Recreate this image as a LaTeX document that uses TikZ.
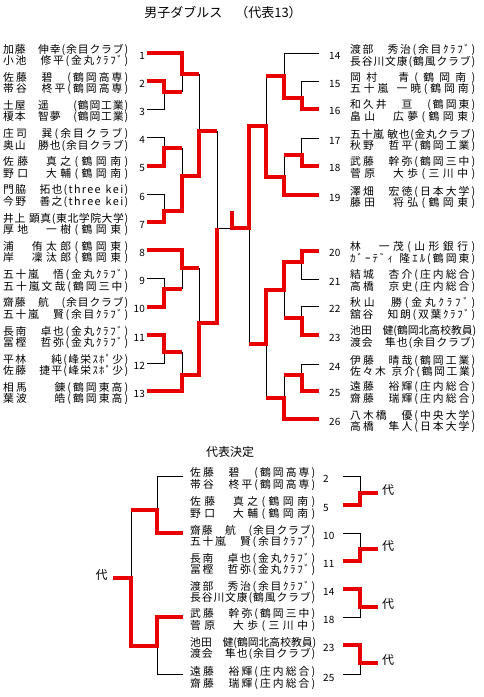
\documentclass[tikz,border=0pt]{standalone}
\usepackage{fontspec}
\setmainfont{Noto Sans CJK JP}
\usetikzlibrary{positioning}
\definecolor{winred}{RGB}{232,0,0}
\tikzset{
  win/.style={draw=winred,line width=4pt},
  lose/.style={draw=black,line width=0.8pt},
  player/.style={anchor=west,inner sep=0pt,font=\fontsize{10.8}{12}\selectfont},
  seedl/.style={anchor=east,inner sep=0pt,font=\fontsize{10}{12}\selectfont},
  seedr/.style={anchor=west,inner sep=0pt,font=\fontsize{10}{12}\selectfont},
  heading/.style={inner sep=0pt,font=\fontsize{13}{15}\selectfont},
  rep/.style={inner sep=0pt,font=\fontsize{12}{14}\selectfont}
}
% spread the characters of a name line over the cell
\newcommand\zs{\hbox to 1em{}}
\def\distA#1{#1\distB}
\def\distB#1{\ifx#1\relax\else\hfill#1\expandafter\distB\fi}
\newcommand\duoi[1]{\makebox[125pt][s]{\distA#1\relax}}
\newcommand\duo[1]{\expandafter\duoi\expandafter{#1}}

\begin{document}
\begin{tikzpicture}[x=1pt,y=-1pt]
  \useasboundingbox (0,0) rectangle (484,697);
  \node[heading] (title) at (223,13) {男子ダブルス　（代表13）};

  % left half
  \foreach \s/\y/\a/\b in {
    1/53/加藤\zs 伸幸(余目クラブ)/小池\zs 修平(金丸ｸﾗﾌﾞ),
    2/81.2/佐藤\zs 碧\zs (鶴岡高専)/帯谷\zs 柊平(鶴岡高専),
    3/109.4/土屋\zs 遥\zs\zs (鶴岡工業)/榎本\zs 智夢\zs (鶴岡工業),
    4/137.6/庄司\zs 巽(余目クラブ)/奥山\zs 勝也(余目クラブ),
    5/165.8/佐藤\zs 真之(鶴岡南)/野口\zs 大輔(鶴岡南),
    6/194/門脇\zs 拓也(three~kei)/今野\zs 善之(three~kei),
    7/222.2/井上~顕真(東北学院大学)/厚地\zs 一樹(鶴岡東),
    8/250.4/浦\zs 侑太郎(鶴岡東)/岸\zs 凜汰郎(鶴岡東),
    9/278.6/五十嵐\zs 悟(金丸ｸﾗﾌﾞ)/五十嵐文哉(鶴岡三中),
    10/306.8/齋藤\zs 航\zs (余目クラブ)/五十嵐\zs 賢(余目ｸﾗﾌﾞ),
    11/335/長南\zs 卓也(金丸ｸﾗﾌﾞ)/冨樫\zs 哲弥(金丸ｸﾗﾌﾞ),
    12/363.2/平林\zs\zs 純(峰栄ｽﾎﾟ少)/佐藤\zs 捷平(峰栄ｽﾎﾟ少),
    13/391.4/相馬\zs\zs 錬(鶴岡東高)/葉波\zs\zs 皓(鶴岡東高)} {
    \node[seedl] (n\s) at (145,\y+2.5) {\s};
    \node[player] (p\s a) at (3,\y-3.5) {\duo\a};
    \node[player] (p\s b) at (3,\y+8) {\duo\b};
    \coordinate (e\s) at (147,\y);
  }

  % right half
  \foreach \s/\y/\a/\b in {
    14/53.7/渡部\zs 秀治(余目ｸﾗﾌﾞ)/長谷川文康(鶴風クラブ),
    15/81.3/岡村\zs 青(鶴岡南)/五十嵐~一暁(鶴岡南),
    16/108.7/和久井\zs 亘\zs (鶴岡東)/畠山\zs 広夢(鶴岡東),
    17/138.3/五十嵐~敏也(金丸クラブ)/秋野\zs 哲平(鶴岡工業),
    18/165.7/武藤\zs 幹弥(鶴岡三中)/菅原\zs 大歩(三川中),
    19/195/澤畑\zs 宏徳(日本大学)/藤田\zs 将弘(鶴岡東),
    20/250.7/林\zs 一茂(山形銀行)/ｶﾞｰﾃﾞｨ~隆ｴﾙ(鶴岡東),
    21/279/結城\zs 杏介(庄内総合)/高橋\zs 京史(庄内総合),
    22/306.7/秋山\zs 勝(金丸ｸﾗﾌﾞ)/舘谷\zs 知朗(双葉ｸﾗﾌﾞ),
    23/335/池田\zs 健(鶴岡北高校教員)/渡会\zs 隼也(余目クラブ),
    24/364.3/伊藤\zs 晴哉(鶴岡工業)/佐々木~京介(鶴岡工業),
    25/390.7/遠藤\zs 裕輝(庄内総合)/齋藤\zs 瑞輝(庄内総合),
    26/419/八木橋\zs 優(中央大学)/高橋\zs 隼人(日本大学)} {
    \node[seedr] (n\s) at (329,\y+2.5) {\s};
    \node[player] (p\s a) at (350,\y-3.5) {\duo\a};
    \node[player] (p\s b) at (350,\y+8) {\duo\b};
    \coordinate (e\s) at (319.3,\y);
  }

  % left bracket
  \draw[lose] (e3) -| (164,92);
  \draw[lose] (e4) -| (164,148.3);
  \draw[lose] (e6) -| (164,210.7);
  \draw[lose] (e9) -| (164,289);
  \draw[lose] (e12) -| (164,352.3);
  \draw[lose] (182,74.3) -- (182,92);
  \draw[lose] (182,148.3) -- (182,176);
  \draw[lose] (182,268.3) -- (182,289);
  \draw[lose] (182,352.3) -- (182,375);
  \draw[lose] (199,74.3) -- (199,131);
  \draw[lose] (199,268.3) -- (199,323.3);
  \draw[lose] (217,131) |- (231.7,228.3);
  \draw[lose] (249.3,228.3) -- (249.3,344);
  \draw[win] (e1) -| (182,74.3) -- (199,74.3);
  \draw[win] (e2) -| (164,92) -- (182,92);
  \draw[win] (e5) -| (164,148.3) -- (182,148.3);
  \draw[win] (e7) -| (164,210.7) -| (182,176) -| (199,131) -- (217,131);
  \draw[win] (e8) -| (182,268.3) -- (199,268.3);
  \draw[win] (e10) -| (164,289) -- (182,289);
  \draw[win] (e11) -| (164,352.3) -- (182,352.3);
  \draw[win] (e13) -| (182,375) -| (199,323.3) -| (217,228.3);

  % right bracket
  \draw[lose] (e14) -| (284.3,75.7);
  \draw[lose] (e15) -| (301.7,98);
  \draw[lose] (e17) -| (301.7,155);
  \draw[lose] (284.3,155) -- (284.3,176.7);
  \draw[lose] (266,75.7) -- (266,126);
  \draw[lose] (e21) -| (301.7,262.3);
  \draw[lose] (e22) -| (301.7,318.3);
  \draw[lose] (284.3,290) -- (284.3,318.3);
  \draw[lose] (e24) -| (301.7,375);
  \draw[lose] (284.3,375) -- (284.3,398.3);
  \draw[lose] (266,344) -- (266,398.3);
  \draw[win] (e16) -| (301.7,98) -| (284.3,75.7) -- (266,75.7);
  \draw[win] (e18) -| (301.7,155) -- (284.3,155);
  \draw[win] (e19) -| (284.3,176.7) -| (266,126) -| (249.3,228.3) -| (231.7,210.7);
  \draw[win] (e20) -| (301.7,262.3) -| (284.3,290) -| (266,344) -- (249.3,344);
  \draw[win] (e23) -| (301.7,318.3) -- (284.3,318.3);
  \draw[win] (e25) -| (301.7,375) -- (284.3,375);
  \draw[win] (e26) -| (284.3,398.3) -- (266,398.3);

  % play-off for the last places
  \node[rep] (playoff) at (230,452) {代表決定};
  \foreach \s/\y/\a/\b in {
    2/476/佐藤\zs 碧\zs (鶴岡高専)/帯谷\zs 柊平(鶴岡高専),
    5/505/佐藤\zs 真之(鶴岡南)/野口\zs 大輔(鶴岡南),
    10/533/齋藤\zs 航\zs (余目クラブ)/五十嵐\zs 賢(余目ｸﾗﾌﾞ),
    11/561/長南\zs 卓也(金丸ｸﾗﾌﾞ)/冨樫\zs 哲弥(金丸ｸﾗﾌﾞ),
    14/589.3/渡部\zs 秀治(余目ｸﾗﾌﾞ)/長谷川文康(鶴風クラブ),
    18/617/武藤\zs 幹弥(鶴岡三中)/菅原\zs 大歩(三川中),
    23/645.3/池田\zs 健(鶴岡北高校教員)/渡会\zs 隼也(余目クラブ),
    25/674.7/遠藤\zs 裕輝(庄内総合)/齋藤\zs 瑞輝(庄内総合)} {
    \node[seedr] (q\s) at (323,\y+3) {\s};
    \node[player] (r\s a) at (190,\y-2.5) {\duo\a};
    \node[player] (r\s b) at (190,\y+9) {\duo\b};
    \coordinate (bl\s) at (182.7,\y);
    \coordinate (br\s) at (343.3,\y);
  }
  \draw[lose] (bl2) -| (157.3,510);
  \draw[lose] (bl25) -| (157.3,646);
  \draw[lose] (131,510) -- (131,578.3);
  \draw[win] (bl10) -| (157.3,510) -- (131,510);
  \draw[win] (bl18) -| (157.3,646) -| (131,578.3) -- (113.3,578.3);
  \node[rep] (rep0) at (101.7,575) {代};

  \draw[lose] (br2) -| (360,493.3);
  \draw[win] (br5) -| (360,493.3) -- (377.7,493.3);
  \draw[lose] (br10) -| (360,549.3);
  \draw[win] (br11) -| (360,549.3) -- (377.7,549.3);
  \draw[lose] (br18) -| (360,606.7);
  \draw[win] (br14) -| (360,606.7) -- (377.7,606.7);
  \draw[lose] (br25) -| (360,662.7);
  \draw[win] (br23) -| (360,662.7) -- (377.7,662.7);
  \node[rep] (rep1) at (388,490) {代};
  \node[rep] (rep2) at (388,546) {代};
  \node[rep] (rep3) at (388,604.3) {代};
  \node[rep] (rep4) at (388,660) {代};
\end{tikzpicture}
\end{document}
